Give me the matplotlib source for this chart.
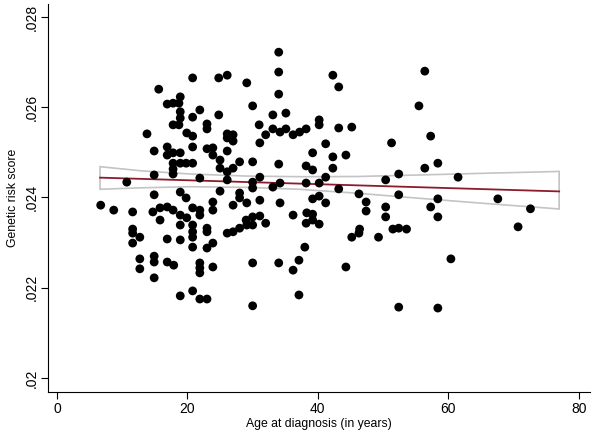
import numpy as np
import matplotlib
matplotlib.use("Agg")
import matplotlib.pyplot as plt

plt.rcParams['font.family'] = ['Liberation Sans', 'DejaVu Sans']

age = [15.6, 16.9, 17.8, 18.9, 18.7, 18.9, 18.9, 17.8, 18.7, 13.8, 19.9,
       34.0, 34.0, 26.1, 24.8, 20.8, 29.1, 34.0, 30.0, 21.9, 20.8, 24.8, 33.1, 35.1,
       23.0, 23.0, 31.0, 33.1, 35.1, 20.8, 26.1, 27.0, 26.1, 32.0, 36.2, 37.2, 38.2,
       42.3, 43.2, 56.4, 55.5, 40.2, 40.2, 43.2, 45.2, 57.3,
       16.9, 14.9, 16.9, 17.8, 18.9, 17.8, 18.9, 19.8, 17.8, 17.8, 14.9, 10.7, 18.9,
       19.8, 14.9, 6.7, 8.7, 11.6, 14.7, 15.8, 16.9, 17.8, 18.9, 19.9, 15.8, 11.6, 18.9,
       27.0, 31.1, 34.2, 20.8, 23.0, 23.9, 26.1, 23.9, 25.0, 28.0, 30.0, 34.0, 20.8,
       25.0, 27.0, 26.1, 21.9, 26.1, 31.1, 30.0, 30.0, 33.1, 34.2, 38.2, 25.0, 28.0,
       28.0, 23.9, 31.1, 29.1, 34.2, 27.0, 20.8, 23.9, 21.9, 21.9, 36.2, 38.3, 31.1,
       30.0, 29.0, 23.0, 20.8,
       51.3, 41.2, 39.2, 42.3, 44.3, 38.2, 39.2, 42.3, 41.2, 56.4, 52.4, 50.4, 40.2,
       43.2, 46.3, 52.4, 39.2, 40.2, 47.4, 41.2, 47.4, 50.4, 50.4, 57.3, 39.2, 38.2,
       39.2, 40.2, 46.4, 51.5, 52.4, 53.6,
       58.4, 61.5, 58.4, 58.4, 67.6, 72.6, 70.7,
       11.6, 12.7, 11.6, 16.9, 18.9, 12.7, 14.9, 14.9, 12.7, 16.9, 17.9, 14.9, 18.9,
       20.8, 20.8, 23.0, 20.8, 23.0, 23.9, 26.1, 27.0, 28.0, 29.1, 30.0, 32.0, 38.0,
       21.9, 21.9, 21.9, 23.9, 30.0, 34.0, 37.1, 36.2, 20.8, 21.9, 23.0, 30.0, 37.1,
       45.2, 46.3, 49.3, 44.3, 52.4, 60.4, 58.4]

score = [0.02640, 0.02607, 0.02609, 0.02623, 0.02609, 0.02590, 0.02576, 0.02561, 0.02561, 0.02541, 0.02543,
         0.02722, 0.02678, 0.02671, 0.02665, 0.02665, 0.02654, 0.02629, 0.02603, 0.02594, 0.02578, 0.02583, 0.02583, 0.02587,
         0.02563, 0.02552, 0.02561, 0.02552, 0.02552, 0.02536, 0.02541, 0.02539, 0.02532, 0.02539, 0.02539, 0.02545, 0.02552,
         0.02671, 0.02645, 0.02680, 0.02603, 0.02572, 0.02561, 0.02554, 0.02556, 0.02536,
         0.02512, 0.02503, 0.02494, 0.02499, 0.02499, 0.02476, 0.02476, 0.02476, 0.02463, 0.02452, 0.02450, 0.02434, 0.02412,
         0.02399, 0.02406, 0.02383, 0.02372, 0.02368, 0.02368, 0.02377, 0.02379, 0.02372, 0.02361, 0.02355, 0.02350, 0.02330, 0.02339,
         0.02525, 0.02521, 0.02545, 0.02512, 0.02508, 0.02510, 0.02503, 0.02494, 0.02483, 0.02479, 0.02479, 0.02474, 0.02476,
         0.02465, 0.02465, 0.02457, 0.02443, 0.02439, 0.02445, 0.02434, 0.02421, 0.02423, 0.02432, 0.02432, 0.02414, 0.02410,
         0.02399, 0.02390, 0.02394, 0.02388, 0.02388, 0.02383, 0.02377, 0.02372, 0.02372, 0.02361, 0.02361, 0.02366, 0.02359,
         0.02357, 0.02350, 0.02332, 0.02339,
         0.02521, 0.02519, 0.02499, 0.02490, 0.02494, 0.02470, 0.02461, 0.02465, 0.02445, 0.02465, 0.02452, 0.02439, 0.02432,
         0.02419, 0.02408, 0.02406, 0.02397, 0.02403, 0.02390, 0.02388, 0.02370, 0.02379, 0.02357, 0.02379, 0.02363, 0.02343,
         0.02350, 0.02341, 0.02330, 0.02330, 0.02332, 0.02330,
         0.02476, 0.02445, 0.02397, 0.02357, 0.02397, 0.02375, 0.02335,
         0.02321, 0.02312, 0.02299, 0.02308, 0.02306, 0.02264, 0.02270, 0.02257, 0.02242, 0.02257, 0.02250, 0.02222, 0.02182,
         0.02324, 0.02312, 0.02324, 0.02290, 0.02288, 0.02299, 0.02321, 0.02324, 0.02332, 0.02339, 0.02339, 0.02343, 0.02290,
         0.02255, 0.02244, 0.02233, 0.02246, 0.02255, 0.02255, 0.02261, 0.02239, 0.02193, 0.02175, 0.02175, 0.02160, 0.02184,
         0.02312, 0.02321, 0.02312, 0.02246, 0.02157, 0.02264, 0.02155]

# fitted line and 95% CI
fit_age = [6.6, 77.0]
fit_value = [0.024440, 0.024135]
ci_age = [6.6, 13.0, 20.4, 29.0, 37.2, 46.0, 55.6, 65.0, 75.6, 77.0]
ci_upper = [0.024683, 0.024590, 0.024521, 0.024475, 0.024461, 0.024465, 0.024499, 0.024535, 0.024572, 0.024578]
ci_lower = [0.024182, 0.024215, 0.024239, 0.024225, 0.024182, 0.024095, 0.023982, 0.023875, 0.023761, 0.023745]

x_ticks = [0, 20, 40, 60, 80]
y_ticks = [0.020, 0.022, 0.024, 0.026, 0.028]
y_tick_labels = ['.02', '.022', '.024', '.026', '.028']

fig = plt.figure(figsize=(6.0, 4.34), dpi=100)
ax = fig.add_axes([0.08, 0.0968, 0.903, 0.894])

ci_x = np.r_[ci_age, ci_age[::-1], ci_age[0]]
ci_y = np.r_[ci_upper, ci_lower[::-1], ci_upper[0]]
ax.fill(ci_x, ci_y, facecolor='white', edgecolor='#c4c4c4', lw=1.2, zorder=2)
ax.plot(fit_age, fit_value, color='#8b1c2c', lw=1.3, zorder=3)
ax.scatter(age, score, s=40, color='black', edgecolors='none', zorder=4)

ax.set_xlim(-1.38, 81.7)
ax.set_ylim(0.01969, 0.028288)
ax.set_xticks(x_ticks)
ax.set_yticks(y_ticks)
ax.set_yticklabels(y_tick_labels, rotation=90, va='center')
ax.tick_params(direction='out', length=5, width=0.8, labelsize=10, colors='black', pad=2)
for side in ['top', 'right']:
    ax.spines[side].set_visible(False)
for side in ['left', 'bottom']:
    ax.spines[side].set_linewidth(0.8)

ax.set_xlabel('Age at diagnosis (in years)', fontsize=8.8, labelpad=2)
ax.set_ylabel('Genetic risk score', fontsize=8.8, labelpad=4)

fig.savefig('out.png', dpi=100)
